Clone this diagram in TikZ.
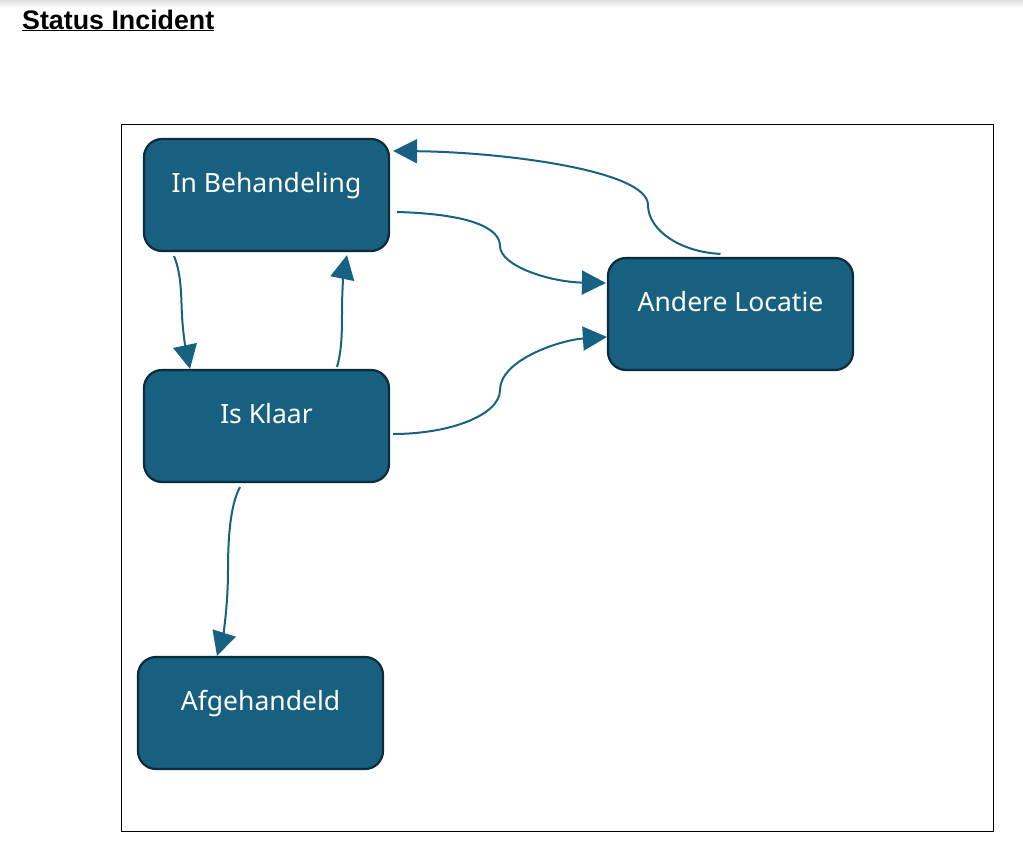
\documentclass[tikz,border=0pt]{standalone}
\usepackage{fontspec}
\setmainfont{Noto Sans}
\newfontfamily\titlefont{Liberation Sans}
\usetikzlibrary{arrows.meta,calc}
\definecolor{boxfill}{HTML}{17607F}
\definecolor{boxline}{HTML}{0C2B3B}
\definecolor{arrowcol}{HTML}{176183}
\tikzset{
  statebox/.style={draw=boxline, line width=2.2pt, fill=boxfill, rounded corners=18pt,
    minimum width=245pt, minimum height=112pt, inner sep=0pt,
    text=white, font=\fontsize{26.5}{30}\selectfont, text depth=26pt},
  conn/.style={draw=arrowcol, line width=2pt,
    -{Triangle[length=24pt,width=24pt]}}
}
\begin{document}
\begin{tikzpicture}[x=1pt,y=-1pt]
\useasboundingbox (0,0) rectangle (1023,852);
\fill[white] (0,0) rectangle (1023,852);
\shade[top color=black!12, bottom color=white] (0,8) rectangle (1023,0);
\node[anchor=base west, inner sep=0pt, font=\titlefont\bfseries\fontsize{26.8}{30}\selectfont] (title) at (22,29) {\underline{Status Incident}};
\draw[black, line width=1pt] (121,124) rectangle (993,831);

\node[statebox] (inb) at (266.5,195) {In Behandeling};
\node[statebox] (klaar) at (266.5,426) {Is Klaar};
\node[statebox] (andere) at (730.5,314) {Andere Locatie};
\node[statebox] (afg) at (260.5,713) {Afgehandeld};

% In Behandeling -> Andere Locatie
\draw[conn] ($(inb.east)+(7,17)$) .. controls (470,214) and (500,228) .. (500,246)
  .. controls (500,266) and (550,282) .. ($(andere.west)+(-1,-31)$);
% Andere Locatie -> In Behandeling
\draw[conn] ($(andere.north)+(-10,-3)$) .. controls (680,252) and (648,230) .. (648,205)
  .. controls (648,170) and (500,152) .. ($(inb.east)+(3,-44)$);
% In Behandeling -> Is Klaar
\draw[conn] ($(inb.south)+(-92.5,4)$) .. controls (182,275) and (181,300) .. (182,315)
  .. controls (183,335) and (186,350) .. ($(klaar.north)+(-76.5,0)$);
% Is Klaar -> In Behandeling
\draw[conn] ($(klaar.north)+(70.5,-2)$) .. controls (342,350) and (342,330) .. (342,310)
  .. controls (342,290) and (344,270) .. ($(inb.south)+(80.5,3)$);
% Is Klaar -> Andere Locatie
\draw[conn] ($(klaar.east)+(3,8)$) .. controls (450,434) and (500,415) .. (500,390)
  .. controls (500,360) and (560,340) .. ($(andere.west)+(0,23)$);
% Is Klaar -> Afgehandeld
\draw[conn] ($(klaar.south)+(-26.5,4)$) .. controls (230,505) and (228,540) .. (228,570)
  .. controls (228,610) and (222,640) .. ($(afg.north)+(-43.5,0)$);
\end{tikzpicture}
\end{document}
